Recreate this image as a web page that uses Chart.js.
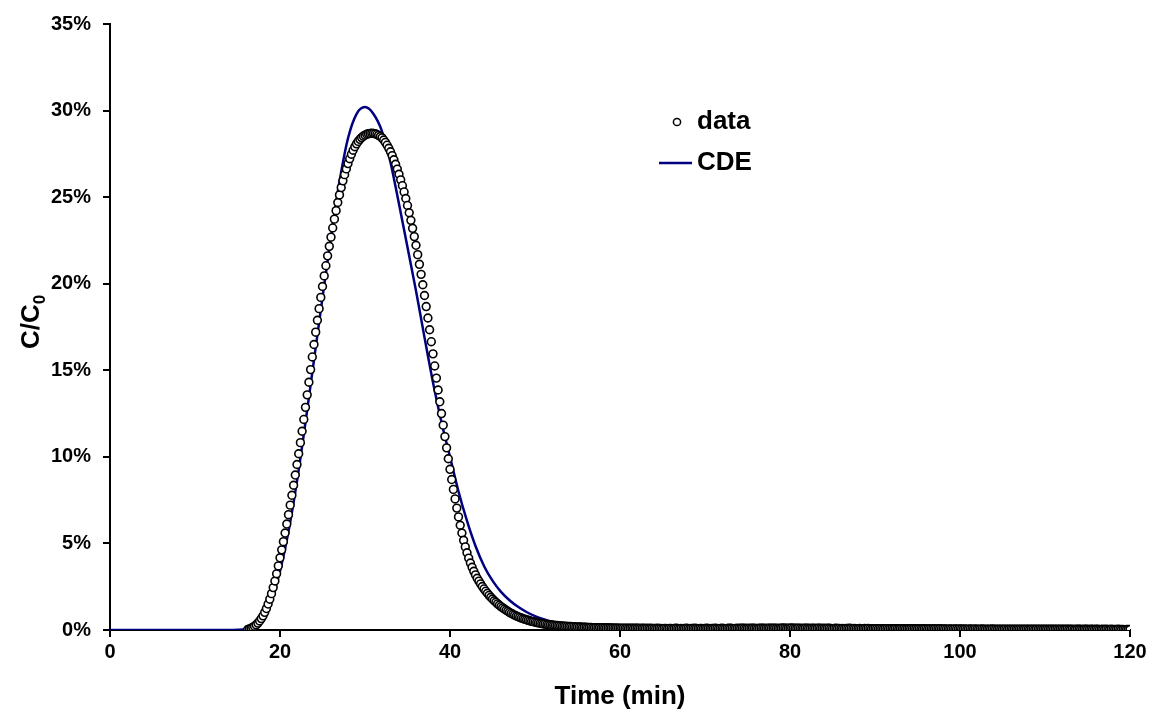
<!DOCTYPE html>
<html>
<head>
<meta charset="utf-8">
<script src="https://cdn.jsdelivr.net/npm/chart.js@4/dist/chart.umd.min.js"></script>
<style>
  html, body { margin: 0; padding: 0; background: #fff; }
  #wrap { width: 1154px; height: 724px; }
</style>
</head>
<body>
<div id="wrap"><canvas id="btcChart" width="1154" height="724"></canvas></div>
<script>
// measured breakthrough, C/C0 in %, one reading every 0.2 min from 16.2 min
const dataStart = 16.2;
const dataStep = 0.2;
const dataValues = [
  0.03, 0.06, 0.1, 0.15, 0.22, 0.3, 0.4, 0.52, 0.66, 0.82,          // 16.2
  1.02, 1.24, 1.5, 1.78, 2.1, 2.45, 2.83, 3.25, 3.7, 4.17,           // 18.2
  4.63, 5.1, 5.6, 6.12, 6.66, 7.21, 7.78, 8.36, 8.95, 9.56,          // 20.2
  10.18, 10.82, 11.48, 12.16, 12.86, 13.58, 14.31, 15.04, 15.77, 16.49, // 22.2
  17.2, 17.89, 18.56, 19.21, 19.84, 20.45, 21.04, 21.61, 22.16, 22.69,  // 24.2
  23.22, 23.73, 24.22, 24.69, 25.13, 25.55, 25.94, 26.3, 26.63, 26.94,  // 26.2
  27.22, 27.48, 27.71, 27.91, 28.08, 28.22, 28.34, 28.44, 28.52, 28.58, // 28.2
  28.63, 28.66, 28.68, 28.69, 28.68, 28.66, 28.62, 28.57, 28.5, 28.42,  // 30.2
  28.3, 28.16, 28.0, 27.82, 27.62, 27.4, 27.16, 26.9, 26.62, 26.32,     // 32.2
  26.0, 25.66, 25.3, 24.92, 24.52, 24.1, 23.66, 23.2, 22.72, 22.22,     // 34.2
  21.68, 21.12, 20.54, 19.94, 19.32, 18.68, 18.02, 17.34, 16.65, 15.95, // 36.2
  15.25, 14.55, 13.86, 13.18, 12.5, 11.83, 11.17, 10.52, 9.89, 9.28,    // 38.2
  8.69, 8.12, 7.57, 7.04, 6.53, 6.05, 5.6, 5.18, 4.8, 4.46,             // 40.2
  4.15, 3.87, 3.62, 3.39, 3.18, 2.99, 2.82, 2.66, 2.51, 2.37,           // 42.2
  2.24, 2.12, 2.0, 1.89, 1.79, 1.69, 1.6, 1.51, 1.43, 1.35,             // 44.2
  1.28, 1.21, 1.14, 1.08, 1.02, 0.96, 0.91, 0.86, 0.81, 0.77,           // 46.2
  0.73, 0.69, 0.65, 0.62, 0.59, 0.56, 0.53, 0.5, 0.48, 0.46,            // 48.2
  0.43, 0.41, 0.39, 0.37, 0.35, 0.34, 0.32, 0.31, 0.3, 0.29,            // 50.2
  0.28, 0.27, 0.26, 0.25, 0.24, 0.23, 0.22, 0.22, 0.21, 0.2,            // 52.2
  0.2, 0.19, 0.19, 0.18, 0.18, 0.17, 0.17, 0.16, 0.16, 0.16,            // 54.2
  0.15, 0.15, 0.15, 0.14, 0.14, 0.14, 0.13, 0.14, 0.13, 0.13,           // 56.2
  0.13, 0.12, 0.13, 0.12, 0.12, 0.12, 0.11, 0.12, 0.11, 0.11,           // 58.2
  0.11, 0.11, 0.1, 0.11, 0.1, 0.1, 0.11, 0.1, 0.1, 0.1,                 // 60.2
  0.1, 0.09, 0.1, 0.1, 0.09, 0.1, 0.09, 0.1, 0.09, 0.09,                // 62.2
  0.09, 0.1, 0.09, 0.09, 0.08, 0.09, 0.09, 0.08, 0.09, 0.09,            // 64.2
  0.08, 0.09, 0.1, 0.09, 0.08, 0.09, 0.08, 0.09, 0.1, 0.09,             // 66.2
  0.08, 0.09, 0.09, 0.1, 0.09, 0.08, 0.09, 0.09, 0.08, 0.09,            // 68.2
  0.1, 0.09, 0.08, 0.09, 0.09, 0.1, 0.09, 0.08, 0.09, 0.1,              // 70.2
  0.09, 0.08, 0.09, 0.1, 0.1, 0.09, 0.08, 0.09, 0.1, 0.09,              // 72.2
  0.1, 0.11, 0.1, 0.09, 0.1, 0.09, 0.1, 0.11, 0.1, 0.09,                // 74.2
  0.09, 0.1, 0.11, 0.1, 0.1, 0.09, 0.1, 0.11, 0.1, 0.1,                 // 76.2
  0.11, 0.1, 0.09, 0.1, 0.11, 0.12, 0.11, 0.1, 0.1, 0.11,               // 78.2
  0.12, 0.11, 0.1, 0.1, 0.11, 0.1, 0.09, 0.1, 0.11, 0.1,                // 80.2
  0.1, 0.09, 0.1, 0.1, 0.09, 0.1, 0.11, 0.1, 0.09, 0.1,                 // 82.2
  0.09, 0.1, 0.1, 0.09, 0.08, 0.09, 0.1, 0.09, 0.09, 0.08,              // 84.2
  0.09, 0.08, 0.09, 0.09, 0.1, 0.09, 0.08, 0.09, 0.08, 0.08,            // 86.2
  0.09, 0.08, 0.08, 0.09, 0.08, 0.09, 0.08, 0.07, 0.08, 0.08,           // 88.2
  0.08, 0.07, 0.08, 0.08, 0.07, 0.08, 0.08, 0.07, 0.08, 0.07,           // 90.2
  0.07, 0.08, 0.07, 0.07, 0.08, 0.07, 0.07, 0.06, 0.07, 0.07,           // 92.2
  0.07, 0.06, 0.07, 0.07, 0.06, 0.07, 0.06, 0.07, 0.07, 0.06,           // 94.2
  0.06, 0.07, 0.06, 0.06, 0.07, 0.06, 0.06, 0.07, 0.06, 0.06,           // 96.2
  0.06, 0.06, 0.05, 0.06, 0.06, 0.05, 0.06, 0.06, 0.05, 0.06,           // 98.2
  0.06, 0.05, 0.06, 0.05, 0.05, 0.06, 0.05, 0.05, 0.06, 0.05,           // 100.2
  0.05, 0.05, 0.06, 0.05, 0.05, 0.04, 0.05, 0.05, 0.06, 0.05,           // 102.2
  0.05, 0.04, 0.05, 0.05, 0.04, 0.05, 0.05, 0.04, 0.05, 0.05,           // 104.2
  0.05, 0.05, 0.04, 0.05, 0.05, 0.05, 0.04, 0.05, 0.05, 0.04,           // 106.2
  0.04, 0.05, 0.05, 0.04, 0.05, 0.04, 0.05, 0.05, 0.04, 0.04,           // 108.2
  0.05, 0.04, 0.04, 0.05, 0.04, 0.04, 0.05, 0.04, 0.04, 0.05,           // 110.2
  0.04, 0.04, 0.05, 0.04, 0.04, 0.04, 0.03, 0.04, 0.04, 0.04,           // 112.2
  0.04, 0.03, 0.04, 0.04, 0.04, 0.03, 0.04, 0.04, 0.03, 0.04,           // 114.2
  0.04, 0.03, 0.03, 0.04, 0.03, 0.04, 0.03, 0.03, 0.04, 0.03,           // 116.2
  0.03, 0.03, 0.04, 0.03, 0.03, 0.03, 0.02, 0.03, 0.03, 0.03            // 118.2
];

// fitted CDE model curve
const cdeTimes = [0, 10, 14, 15, 16, 17, 18, 19, 20, 21, 22, 23, 24, 25, 26, 27, 28, 29, 30,
  31, 32, 33, 34, 35, 36, 37, 38, 39, 40, 41, 42, 43, 44, 45, 46, 47, 48, 49, 50,
  51, 52, 53, 54, 55, 56, 58, 60, 65, 70, 80, 100, 120];
const cdeValues = [0, 0, 0, 0.01, 0.06, 0.22, 0.75, 1.75, 3.4, 5.7, 8.6, 12.0, 15.6, 19.2, 22.7, 25.9, 28.4, 29.8, 30.2,
  29.8, 28.8, 27.0, 24.6, 22.1, 19.6, 16.9, 14.3, 12.0, 10.0, 8.0, 6.3, 4.85, 3.7, 2.85, 2.2, 1.72, 1.34, 1.04, 0.8,
  0.62, 0.48, 0.37, 0.29, 0.22, 0.17, 0.1, 0.06, 0.02, 0.01, 0, 0, 0];

const xTicks = [0, 20, 40, 60, 80, 100, 120];
const yTicks = [0, 5, 10, 15, 20, 25, 30, 35];

const FONT = "'Liberation Sans', Arial, sans-serif";

const dataPoints = dataValues.map((v, i) => ({ x: +(dataStart + i * dataStep).toFixed(1), y: v }));
const cdePoints = cdeTimes.map((t, i) => ({ x: t, y: cdeValues[i] }));

// legend and axis titles drawn by hand (legend sits inside the plot, y title has a subscript)
const extrasPlugin = {
  id: "extras",
  afterDraw(chart) {
    const ctx = chart.ctx;
    const area = chart.chartArea;
    ctx.save();
    ctx.fillStyle = "#000";
    ctx.font = "bold 26px " + FONT;
    ctx.textBaseline = "middle";

    // legend
    ctx.beginPath();
    ctx.arc(677, 122, 3.6, 0, Math.PI * 2);
    ctx.fillStyle = "#fff";
    ctx.fill();
    ctx.lineWidth = 1.5;
    ctx.strokeStyle = "#000";
    ctx.stroke();
    ctx.fillStyle = "#000";
    ctx.textAlign = "left";
    ctx.fillText("data", 697, 122);

    ctx.beginPath();
    ctx.moveTo(659, 163);
    ctx.lineTo(692, 163);
    ctx.strokeStyle = "#000080";
    ctx.lineWidth = 2.5;
    ctx.stroke();
    ctx.fillText("CDE", 697, 163);

    // x title
    ctx.textAlign = "center";
    ctx.fillText("Time (min)", (area.left + area.right) / 2, 697);

    // y title with subscript
    ctx.translate(32, 322);
    ctx.rotate(-Math.PI / 2);
    ctx.textAlign = "left";
    const main = "C/C";
    const w1 = ctx.measureText(main).width;
    ctx.font = "bold 17px " + FONT;
    const w2 = ctx.measureText("0").width;
    const x0 = -(w1 + w2) / 2;
    ctx.font = "bold 26px " + FONT;
    ctx.fillText(main, x0, 0);
    ctx.font = "bold 17px " + FONT;
    ctx.fillText("0", x0 + w1, 8);
    ctx.restore();
  }
};

function buildChart() {
  const ctx = document.getElementById("btcChart").getContext("2d");
  new Chart(ctx, {
    type: "scatter",
    data: {
      datasets: [
        {
          label: "data",
          data: dataPoints,
          showLine: false,
          pointRadius: 3.9,
          pointBorderWidth: 1.6,
          pointBackgroundColor: "#fff",
          pointBorderColor: "#000"
        },
        {
          label: "CDE",
          data: cdePoints,
          showLine: true,
          borderColor: "#000080",
          borderWidth: 2.5,
          pointRadius: 0,
          cubicInterpolationMode: "monotone"
        }
      ]
    },
    options: {
      responsive: false,
      animation: false,
      layout: { padding: { top: 21, right: 24, left: 0, bottom: 0 } },
      plugins: { legend: { display: false }, tooltip: { enabled: false } },
      scales: {
        x: {
          type: "linear",
          min: 0,
          max: 120,
          afterBuildTicks: s => { s.ticks = xTicks.map(v => ({ value: v })); },
          afterFit: s => { s.height = 94; },
          grid: { drawOnChartArea: false, drawTicks: true, tickLength: 7, color: "#000", lineWidth: 2 },
          border: { display: true, color: "#000", width: 2 },
          ticks: { color: "#000", font: { family: FONT, size: 20, weight: "bold" }, padding: 3, maxRotation: 0 }
        },
        y: {
          type: "linear",
          min: 0,
          max: 35,
          afterBuildTicks: s => { s.ticks = yTicks.map(v => ({ value: v })); },
          afterFit: s => { s.width = 110; },
          grid: { drawOnChartArea: false, drawTicks: true, tickLength: 7, color: "#000", lineWidth: 2 },
          border: { display: true, color: "#000", width: 2 },
          ticks: { color: "#000", font: { family: FONT, size: 20, weight: "bold" }, padding: 12, callback: v => v + "%" }
        }
      }
    },
    plugins: [extrasPlugin]
  });
}

window.onload = buildChart;
</script>
</body>
</html>
